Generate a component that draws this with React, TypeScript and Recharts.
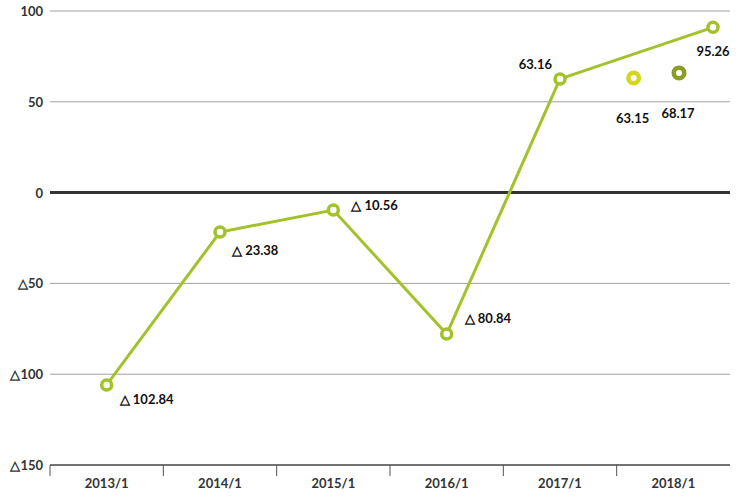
import React from "react";
import {
  ComposedChart,
  Line,
  XAxis,
  YAxis,
  CartesianGrid,
  ReferenceLine,
  LabelList
} from "recharts";

// categories on the x axis
const categories = ["2013/1", "2014/1", "2015/1", "2016/1", "2017/1", "2018/1"];
const yTicks = [-150, -100, -50, 0, 50, 100];

// main series (x = category index, y = plotted value, label = printed value)
const mainX = [0, 1, 2, 3, 4, 5.35];
const mainY = [-105.9, -21.7, -9.6, -77.9, 62.6, 91];
const mainLabels = [-102.84, -23.38, -10.56, -80.84, 63.16, 95.26];

// two single forecast points
const yellowX = [4.65];
const yellowY = [63.1];
const yellowLabels = [63.15];

const oliveX = [5.05];
const oliveY = [65.9];
const oliveLabels = [68.17];

const mainData = mainX.map((x, i) => ({ x, y: mainY[i], label: mainLabels[i] }));
const yellowData = yellowX.map((x, i) => ({ x, y: yellowY[i], label: yellowLabels[i] }));
const oliveData = oliveX.map((x, i) => ({ x, y: oliveY[i], label: oliveLabels[i] }));

const FONT = "Lato, 'Open Sans', sans-serif";
const GREEN = "#a2c22a";
const YELLOW = "#d6d61e";
const OLIVE = "#8c9c25";
const PLOT_W = 680;
const HALF = PLOT_W / categories.length / 2;

// label placement relative to each point (styling only)
const mainLabelPos = [
  { dx: 13, dy: 14, anchor: "start" },
  { dx: 12, dy: 18, anchor: "start" },
  { dx: 18, dy: -5, anchor: "start" },
  { dx: 18, dy: -16, anchor: "start" },
  { dx: -8, dy: -15, anchor: "end" },
  { dx: 0, dy: 24, anchor: "middle" }
];

const fmt = (v: number) => (v < 0 ? "△ " + Math.abs(v).toFixed(2) : v.toFixed(2));
const fmtAxis = (v: number) => (v < 0 ? "△" + Math.abs(v) : String(v));

const XTick = (props: any) => {
  const { x, y, payload } = props;
  const idx = Math.round(payload.value);
  return (
    <g>
      <line x1={x - HALF} y1={y} x2={x - HALF} y2={y + 11} stroke="#555" strokeWidth={1} />
      <text
        x={x}
        y={y + 18}
        textAnchor="middle"
        dominantBaseline="central"
        fontFamily={FONT}
        fontSize={13}
        fontWeight={700}
        fill="#333"
      >
        {categories[idx]}
      </text>
    </g>
  );
};

const YTick = (props: any) => {
  const { x, y, payload } = props;
  return (
    <text
      x={x}
      y={y}
      textAnchor="end"
      dominantBaseline="central"
      fontFamily={FONT}
      fontSize={13}
      fontWeight={700}
      fill="#333"
    >
      {fmtAxis(payload.value)}
    </text>
  );
};

const ringDot = (color: string, r: number, sw: number) => (props: any) => {
  const { cx, cy, index } = props;
  if (cx == null || cy == null) return <g key={index} />;
  return (
    <circle key={index} cx={cx} cy={cy} r={r} fill="#fff" stroke={color} strokeWidth={sw} />
  );
};

const mainLabel = (props: any) => {
  const { x, y, index, value } = props;
  const p = mainLabelPos[index];
  return (
    <text
      x={x + p.dx}
      y={y + p.dy}
      textAnchor={p.anchor}
      dominantBaseline="central"
      fontFamily={FONT}
      fontSize={13}
      fontWeight={700}
      fill="#111"
    >
      {fmt(value)}
    </text>
  );
};

const belowLabel = (props: any) => {
  const { x, y, value } = props;
  return (
    <text
      x={x - 1}
      y={y + 40}
      textAnchor="middle"
      dominantBaseline="central"
      fontFamily={FONT}
      fontSize={13}
      fontWeight={700}
      fill="#111"
    >
      {fmt(value)}
    </text>
  );
};

export default function App() {
  return (
    <div style={{ position: "absolute", left: 0, top: 0 }}>
      <ComposedChart
        width={740}
        height={500}
        margin={{ top: 11, right: 10, left: 0, bottom: 0 }}
      >
        <CartesianGrid vertical={false} stroke="#a0a0a0" />
        <XAxis
          type="number"
          dataKey="x"
          domain={[-0.5, 5.5]}
          ticks={[0, 1, 2, 3, 4, 5]}
          allowDataOverflow
          height={35}
          axisLine={{ stroke: "#555", strokeWidth: 1.5 }}
          tickLine={false}
          tickSize={0}
          tickMargin={0}
          tick={<XTick />}
          interval={0}
        />
        <YAxis
          type="number"
          domain={[-150, 100]}
          ticks={yTicks}
          width={50}
          axisLine={false}
          tickLine={false}
          tickSize={0}
          tickMargin={7}
          tick={<YTick />}
          interval={0}
        />
        <ReferenceLine y={0} stroke="#333" strokeWidth={3} />
        <Line
          data={mainData}
          dataKey="y"
          stroke={GREEN}
          strokeWidth={3}
          dot={ringDot(GREEN, 5, 3.5)}
          activeDot={false}
          isAnimationActive={false}
        >
          <LabelList dataKey="label" content={mainLabel} />
        </Line>
        <Line
          data={yellowData}
          dataKey="y"
          stroke={YELLOW}
          strokeWidth={3}
          dot={ringDot(YELLOW, 5.25, 4.5)}
          activeDot={false}
          isAnimationActive={false}
        >
          <LabelList dataKey="label" content={belowLabel} />
        </Line>
        <Line
          data={oliveData}
          dataKey="y"
          stroke={OLIVE}
          strokeWidth={3}
          dot={ringDot(OLIVE, 5.25, 4.5)}
          activeDot={false}
          isAnimationActive={false}
        >
          <LabelList dataKey="label" content={belowLabel} />
        </Line>
      </ComposedChart>
    </div>
  );
}
